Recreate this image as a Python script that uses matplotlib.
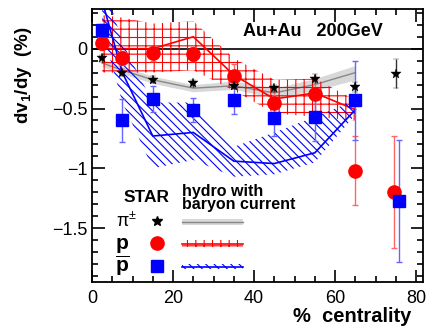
import numpy as np
import matplotlib
matplotlib.use('Agg')
import matplotlib.pyplot as plt
from matplotlib.ticker import MultipleLocator

plt.rcParams['font.family'] = ['Liberation Sans', 'DejaVu Sans']
plt.rcParams['mathtext.fontset'] = 'custom'
plt.rcParams['mathtext.rm'] = 'Liberation Sans'
plt.rcParams['mathtext.bf'] = 'Liberation Sans:bold'
plt.rcParams['mathtext.it'] = 'Liberation Sans:italic'
plt.rcParams['hatch.linewidth'] = 0.8

# STAR data, dv1/dy (%) vs centrality
cent = [2.5, 7.5, 15, 25, 35, 45, 55, 65]
pi_x = cent + [75]
pi_y = [-0.08, -0.20, -0.26, -0.29, -0.31, -0.33, -0.25, -0.32, -0.21]
pi_err = [0.03, 0.03, 0.03, 0.03, 0.03, 0.03, 0.04, 0.04, 0.12]

p_x = cent + [74.6]
p_y = [0.05, -0.08, -0.04, -0.045, -0.23, -0.45, -0.38, -1.02, -1.20]
p_err = [0.06, 0.06, 0.06, 0.06, 0.10, 0.10, 0.14, 0.29, 0.47]

pbar_x = cent + [75.8]
pbar_y = [0.16, -0.60, -0.42, -0.51, -0.43, -0.58, -0.57, -0.43, -1.27]
pbar_err = [0.05, 0.18, 0.11, 0.10, 0.12, 0.15, 0.20, 0.33, 0.51]

# hydro with baryon current
hy_pi = [-0.12, -0.18, -0.26, -0.33, -0.31, -0.37, -0.30, -0.20]
hy_pi_lo = [-0.15, -0.21, -0.29, -0.36, -0.34, -0.41, -0.35, -0.26]
hy_pi_hi = [-0.09, -0.15, -0.23, -0.30, -0.27, -0.33, -0.25, -0.14]

hy_p = [0.0, 0.0, 0.0, 0.10, -0.22, -0.42, -0.37, -0.51]
hy_p_lo = [-0.20, -0.20, -0.20, -0.18, -0.35, -0.54, -0.57, -0.60]
hy_p_hi = [0.28, 0.26, 0.21, 0.23, -0.08, -0.26, -0.25, -0.43]

hy_pbar = [0.40, -0.20, -0.73, -0.70, -0.94, -0.96, -0.87, -0.51]
hy_pbar_lo = [0.15, -0.45, -1.00, -0.93, -1.07, -1.05, -0.95, -0.55]
hy_pbar_hi = [0.60, 0.05, -0.45, -0.45, -0.82, -0.70, -0.57, -0.43]

fig = plt.figure(figsize=(4.33, 3.29), dpi=100)
ax = fig.add_axes([0.2125, 0.144, 0.977 - 0.2125, 0.972 - 0.144])

ax.axhline(0, color='black', lw=1.2, zorder=1)

# bands
ax.fill_between(cent, hy_pi_lo, hy_pi_hi, color='#c8c8c8', alpha=0.7, lw=0, zorder=2)
ax.plot(cent, hy_pi, color='#888888', lw=1.0, zorder=2)
ax.fill_between(cent, hy_p_lo, hy_p_hi, facecolor='none', edgecolor='red',
                hatch='++', lw=0, zorder=2)
ax.plot(cent, hy_p, color='red', lw=1.2, zorder=2)
ax.fill_between(cent, hy_pbar_lo, hy_pbar_hi, facecolor='none', edgecolor='blue',
                hatch='\\\\\\\\', lw=0, zorder=2)
ax.plot(cent, hy_pbar, color='blue', lw=1.2, zorder=2)

# data points
ax.errorbar(pi_x, pi_y, yerr=pi_err, fmt='*', color='black', ms=7.5, mew=0.3,
            elinewidth=1, capsize=2.5, ecolor='#333333', zorder=5)
ax.errorbar(p_x, p_y, yerr=p_err, fmt='o', color='red', ms=9.5,
            elinewidth=1, capsize=2.5, ecolor='#ff6666', zorder=4)
ax.errorbar(pbar_x, pbar_y, yerr=pbar_err, fmt='s', color='blue', ms=8.5,
            elinewidth=1, capsize=2.5, ecolor='#6666ff', zorder=4)

ax.set_xlim(0, 81.7)
ax.set_ylim(-1.947, 0.33)
ax.xaxis.set_major_locator(MultipleLocator(20))
ax.xaxis.set_minor_locator(MultipleLocator(5))
ax.yaxis.set_major_locator(MultipleLocator(0.5))
ax.yaxis.set_minor_locator(MultipleLocator(0.1))
ax.tick_params(which='both', direction='in', top=True, right=True, labelsize=13, width=1.2)
ax.tick_params(which='major', length=9)
ax.tick_params(which='minor', length=4.5)
ax.tick_params(axis='x', pad=6)
ax.set_yticks([0, -0.5, -1, -1.5])
ax.set_yticklabels(['0', '\u22120.5', '\u22121', '\u22121.5'])
for s in ax.spines.values():
    s.set_linewidth(1.3)

ax.text(54.6, 0.14, 'Au+Au   200GeV', fontsize=13, fontweight='bold',
        ha='center', va='center')

# legend
ax.text(13.5, -1.245, 'STAR', fontsize=12.5, fontweight='bold', ha='center', va='center')
ax.text(22.1, -1.25, 'hydro with\nbaryon current', fontsize=11.5, fontweight='bold',
        ha='left', va='center', linespacing=0.85)
ax.text(8.6, -1.44, 'π$^{\\pm}$', fontsize=13, ha='center', va='center')
ax.text(7.4, -1.625, 'p', fontsize=15, fontweight='bold', ha='center', va='center')
ax.text(7.4, -1.815, '$\\mathbf{\\overline{p}}$', fontsize=15, ha='center', va='center')
ax.plot([16], [-1.44], '*', color='black', ms=7.5)
ax.plot([16], [-1.62], 'o', color='red', ms=9.5)
ax.plot([16], [-1.82], 's', color='blue', ms=8.5)
lx = [22.3, 37.2]
ax.fill_between(lx, [-1.475] * 2, [-1.425] * 2, color='#c8c8c8', alpha=0.7, lw=0)
ax.plot(lx, [-1.45] * 2, color='#888888', lw=1.0)
ax.fill_between(lx, [-1.66] * 2, [-1.60] * 2, facecolor='none', edgecolor='red',
                hatch='++', lw=0)
ax.plot(lx, [-1.63] * 2, color='red', lw=1.2)
ax.fill_between(lx, [-1.845] * 2, [-1.80] * 2, facecolor='none', edgecolor='blue',
                hatch='\\\\\\\\', lw=0)
ax.plot(lx, [-1.822] * 2, color='blue', lw=1.2)

fig.text(23 / 433, 1 - 75 / 329, 'dv$_\\mathbf{1}$/dy  (%)', rotation=90, fontsize=13.5,
         fontweight='bold', ha='center', va='center')
fig.text(411 / 433, 1 - 317 / 329, '%  centrality', fontsize=14.5, fontweight='bold',
         ha='right', va='center')

fig.savefig('out.png', dpi=100)
